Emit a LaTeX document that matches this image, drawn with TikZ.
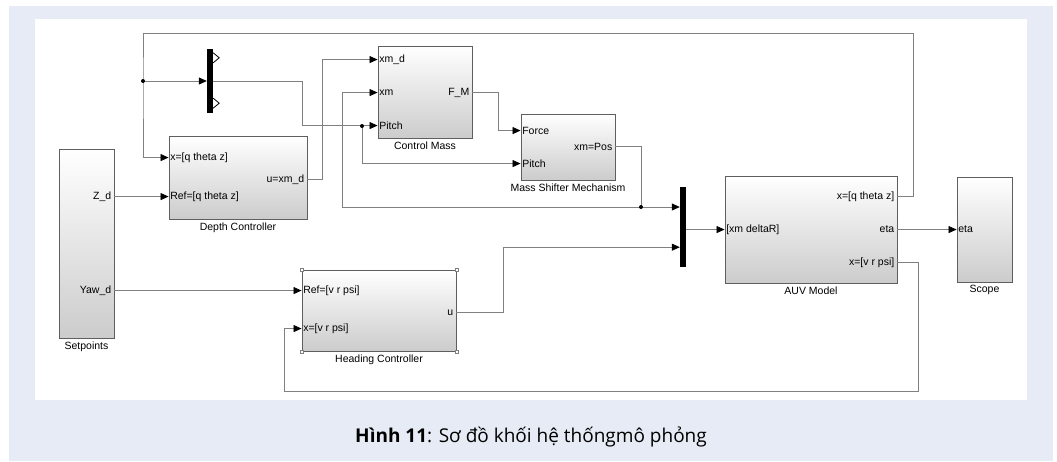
\documentclass[tikz,border=0pt]{standalone}
\usepackage{fontspec}
\setmainfont{Liberation Sans}
\newfontfamily\capfont{Open Sans}
\usetikzlibrary{arrows.meta,positioning,calc,shadows}
\definecolor{pagebg}{RGB}{230,235,245}
\definecolor{wiregray}{RGB}{128,128,128}
\definecolor{boxedge}{RGB}{95,95,95}
\tikzset{
  block/.style={rectangle, draw=boxedge, line width=0.9pt, top color=white,
                bottom color=black!20, inner sep=0pt,
                drop shadow={shadow xshift=1pt, shadow yshift=-1pt, fill=black!45, opacity=0.7}},
  bar/.style={rectangle, fill=black, inner sep=0pt},
  wire/.style={draw=wiregray, line width=0.8pt},
  arrow/.style={wire, -{Triangle[length=8pt, width=7pt, color=black]}},
  junc/.style={circle, fill=black, inner sep=0pt, minimum size=4pt},
  pin/.style={font=\fontsize{10.5}{11}\selectfont, anchor=west, inner sep=1.5pt},
  pout/.style={font=\fontsize{10.5}{11}\selectfont, anchor=east, inner sep=3pt},
  lbl/.style={font=\fontsize{10.5}{12}\selectfont, inner sep=1pt},
  caption/.style={font=\capfont\fontsize{19}{21}\selectfont, inner sep=0pt},
}

\begin{document}
\begin{tikzpicture}[x=1pt, y=-1pt]
  \useasboundingbox (0,0) rectangle (1057,461);
  \fill[white] (0,0) rectangle (1057,461);
  \fill[pagebg] (9,6) rectangle (1053,461);
  \fill[white] (35,19) rectangle (1027,400);

  % blocks
  \node[block, minimum width=55pt, minimum height=189pt] (sp) at (86.5,243.5) {};
  \node[block, minimum width=138pt, minimum height=83pt] (dc) at (238,177.5) {};
  \node[block, minimum width=94pt, minimum height=92pt] (cm) at (425,92) {};
  \node[block, minimum width=94pt, minimum height=66pt] (ms) at (568,147) {};
  \node[block, minimum width=154pt, minimum height=81pt] (hc) at (379,310.5) {};
  \node[block, minimum width=172pt, minimum height=107pt] (auv) at (811,229.5) {};
  \node[block, minimum width=55pt, minimum height=105pt] (sc) at (984.5,229.5) {};
  \node[bar, minimum width=6pt, minimum height=64pt] (dmx) at (210,81) {};
  \node[bar, minimum width=6pt, minimum height=80pt] (mux) at (683,227) {};

  \node[lbl, below=2pt of sp] (spl) {Setpoints};
  \node[lbl, below=2pt of dc] (dcl) {Depth Controller};
  \node[lbl, below=2pt of cm] (cml) {Control Mass};
  \node[lbl, below=2pt of ms] (msl) {Mass Shifter Mechanism};
  \node[lbl, below=2pt of hc] (hcl) {Heading Controller};
  \node[lbl, below=2pt of auv] (auvl) {AUV Model};
  \node[lbl, below=2pt of sc] (scl) {Scope};

  % ports
  \coordinate (spZ) at ($(sp.north east)+(0,48)$);
  \coordinate (spY) at ($(sp.north east)+(0,142)$);
  \coordinate (dcX) at ($(dc.north west)+(0,22)$);
  \coordinate (dcR) at ($(dc.north west)+(0,61)$);
  \coordinate (dcU) at ($(dc.north east)+(0,44)$);
  \coordinate (cmXd) at ($(cm.north west)+(0,14)$);
  \coordinate (cmXm) at ($(cm.north west)+(0,47)$);
  \coordinate (cmP) at ($(cm.north west)+(0,80)$);
  \coordinate (cmF) at ($(cm.north east)+(0,47)$);
  \coordinate (msF) at ($(ms.north west)+(0,17)$);
  \coordinate (msP) at ($(ms.north west)+(0,50)$);
  \coordinate (msO) at ($(ms.north east)+(0,33)$);
  \coordinate (hcR) at ($(hc.north west)+(0,21)$);
  \coordinate (hcX) at ($(hc.north west)+(0,59)$);
  \coordinate (hcU) at ($(hc.north east)+(0,43)$);
  \coordinate (auvIn) at ($(auv.north west)+(0,54)$);
  \coordinate (auvQ) at ($(auv.north east)+(0,21)$);
  \coordinate (auvE) at ($(auv.north east)+(0,54)$);
  \coordinate (auvV) at ($(auv.north east)+(0,87)$);
  \coordinate (scIn) at ($(sc.north west)+(0,53)$);

  \node[pout] (spZt) at (spZ) {Z\_d};
  \node[pout] (spYt) at (spY) {Yaw\_d};
  \node[pin] (dcXt) at (dcX) {x=[q theta z]};
  \node[pin] (dcRt) at (dcR) {Ref=[q theta z]};
  \node[pout] (dcUt) at (dcU) {u=xm\_d};
  \node[pin] (cmXdt) at (cmXd) {xm\_d};
  \node[pin] (cmXmt) at (cmXm) {xm};
  \node[pin] (cmPt) at (cmP) {Pitch};
  \node[pout] (cmFt) at (cmF) {F\_M};
  \node[pin] (msFt) at (msF) {Force};
  \node[pin] (msPt) at (msP) {Pitch};
  \node[pout] (msOt) at (msO) {xm=Pos};
  \node[pin] (hcRt) at (hcR) {Ref=[v r psi]};
  \node[pin] (hcXt) at (hcX) {x=[v r psi]};
  \node[pout] (hcUt) at (hcU) {u};
  \node[pin] (auvInt) at (auvIn) {[xm deltaR]};
  \node[pout] (auvQt) at (auvQ) {x=[q theta z]};
  \node[pout] (auvEt) at (auvE) {eta};
  \node[pout] (auvVt) at (auvV) {x=[v r psi]};
  \node[pin] (scInt) at (scIn) {eta};

  % selection handles on Heading Controller
  \foreach \c in {north west,north east,south west,south east}
    \draw[gray, fill=white, line width=0.4pt] ($(hc.\c)+(-1.5,-1.5)$) rectangle ++(3,3);

  % open outputs of the demux
  \draw[black, line width=0.8pt] ($(dmx.north east)+(0,4)$) -- ++(6,5) -- ++(-6,5);
  \draw[black, line width=0.8pt] ($(dmx.south east)+(0,-15)$) -- ++(6,5) -- ++(-6,5);

  % signals
  \coordinate (jtop) at (143,81);
  \coordinate (fbR) at (913,33);
  \coordinate (jp) at (362,126);
  \coordinate (jx) at (641,207);
  \draw[arrow] (auvQ) -| (fbR) -| (jtop) |- (dcX);
  \draw[arrow] (jtop) -- (dmx.west);
  \draw[arrow] (dmx.east) -- ++(89,0) |- (cmP);
  \draw[arrow] (jp) |- (msP);
  \draw[arrow] (spZ) -- (dcR);
  \draw[arrow] (dcU) -- ++(15,0) |- (cmXd);
  \draw[arrow] (cmF) -- ++(26,0) |- (msF);
  \draw[wire] (msO) -| (jx);
  \draw[arrow] (jx) -- (jx -| mux.west);
  \draw[arrow] (jx) -- ++(-299,0) |- (cmXm);
  \draw[arrow] (spY) -- (hcR);
  \draw[arrow] (hcU) -- ++(47,0) |- ($(mux.south west)+(0,-20)$);
  \draw[arrow] (mux.east |- auvIn) -- (auvIn);
  \draw[arrow] (auvE) -- (scIn);
  \draw[arrow] (auvV) -- ++(21,0) |- ($(hcX)+(-17,63)$) |- (hcX);
  \node[junc] (jtopd) at (jtop) {};
  \node[junc] (jpd) at (jp) {};
  \node[junc] (jxd) at (jx) {};

  \node[caption] (cap) at (531,437) {\textbf{Hình 11}: Sơ đồ khối hệ thốngmô phỏng};
\end{tikzpicture}
\end{document}
